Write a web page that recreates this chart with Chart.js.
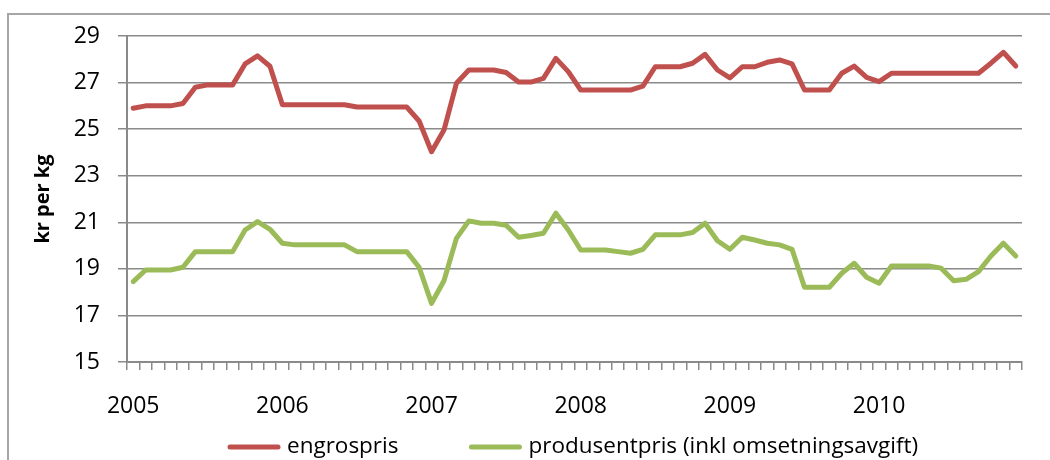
<!DOCTYPE html>
<html>
<head>
<meta charset="utf-8">
<script src="https://cdn.jsdelivr.net/npm/chart.js@4.4.0/dist/chart.umd.min.js"></script>
<style>
  html, body { margin: 0; padding: 0; background: #fff; overflow: hidden; }
  #frame { position: absolute; left: 7px; top: 13px; width: 1100px; height: 500px; border: 2px solid #a6a6a6; }
  #wrap { position: absolute; left: 0; top: 0; width: 1050px; height: 460px; }
</style>
</head>
<body>
<div id="frame"></div>
<div id="wrap"><canvas id="priceChart"></canvas></div>
<script>
// Monthly prices 2005-2010, kr per kg
const yearLabels = ["2005", "2006", "2007", "2008", "2009", "2010"];
const monthNames = ["01", "02", "03", "04", "05", "06", "07", "08", "09", "10", "11", "12"];

const engrospris = [
  25.9, 26.0, 26.0, 26.0, 26.1, 26.8, 26.9, 26.9, 26.9, 27.8, 28.15, 27.7,
  26.05, 26.05, 26.05, 26.05, 26.05, 26.05, 25.95, 25.95, 25.95, 25.95, 25.95, 25.35,
  24.03, 24.96, 26.97, 27.54, 27.54, 27.54, 27.43, 27.02, 27.02, 27.18, 28.04, 27.47,
  26.68, 26.68, 26.68, 26.68, 26.68, 26.85, 27.68, 27.68, 27.68, 27.83, 28.21, 27.54,
  27.2, 27.68, 27.68, 27.87, 27.97, 27.8, 26.68, 26.68, 26.68, 27.4, 27.71, 27.22,
  27.04, 27.4, 27.4, 27.4, 27.4, 27.4, 27.4, 27.4, 27.4, 27.83, 28.3, 27.71
];

const produsentpris = [
  18.45, 18.95, 18.95, 18.95, 19.07, 19.74, 19.74, 19.74, 19.74, 20.67, 21.03, 20.7,
  20.1, 20.03, 20.03, 20.03, 20.03, 20.03, 19.74, 19.74, 19.74, 19.74, 19.74, 19.07,
  17.52, 18.49, 20.31, 21.06, 20.96, 20.96, 20.87, 20.36, 20.43, 20.53, 21.39, 20.67,
  19.81, 19.81, 19.81, 19.74, 19.67, 19.84, 20.46, 20.46, 20.46, 20.56, 20.96, 20.21,
  19.84, 20.36, 20.24, 20.1, 20.03, 19.84, 18.21, 18.21, 18.21, 18.81, 19.24, 18.64,
  18.38, 19.12, 19.12, 19.12, 19.12, 19.03, 18.49, 18.55, 18.88, 19.55, 20.1, 19.55
];

const seriesNames = ["engrospris", "produsentpris (inkl omsetningsavgift)"];

const categories = [];
yearLabels.forEach(y => monthNames.forEach(m => categories.push(y + "-" + m)));

const RED = "#C0504D";
const GREEN = "#9BBB59";
const GRID = "#8a8a8a";
const FONT = "'Open Sans', sans-serif";

// legend drawn below the x axis, Excel style (line sample + text)
const bottomLegend = {
  id: "bottomLegend",
  afterDraw(chart) {
    const { ctx } = chart;
    const y = 447;
    let x = 228;
    ctx.save();
    ctx.font = "22.5px " + FONT;
    ctx.textBaseline = "middle";
    ctx.fillStyle = "#000";
    chart.data.datasets.forEach(ds => {
      ctx.strokeStyle = ds.borderColor;
      ctx.lineWidth = 5;
      ctx.lineCap = "round";
      ctx.beginPath();
      ctx.moveTo(x + 2, y);
      ctx.lineTo(x + 50, y);
      ctx.stroke();
      x += 59;
      ctx.fillText(ds.label, x, y);
      x += ctx.measureText(ds.label).width + 71;
    });
    ctx.restore();
  }
};

const lineStyle = {
  borderWidth: 5,
  pointRadius: 0,
  tension: 0,
  borderJoinStyle: "round",
  borderCapStyle: "round",
  fill: false
};

new Chart(document.getElementById("priceChart"), {
  type: "line",
  data: {
    labels: categories,
    datasets: [
      { label: seriesNames[0], data: engrospris, borderColor: RED, backgroundColor: RED, ...lineStyle },
      { label: seriesNames[1], data: produsentpris, borderColor: GREEN, backgroundColor: GREEN, ...lineStyle }
    ]
  },
  options: {
    responsive: true,
    maintainAspectRatio: false,
    animation: false,
    layout: { padding: { left: 0, top: 36, right: 28, bottom: 33 } },
    plugins: {
      legend: { display: false },
      tooltip: { enabled: false }
    },
    scales: {
      x: {
        type: "category",
        offset: true,
        grid: { offset: true, drawOnChartArea: false, drawTicks: true, tickLength: 8, color: GRID, lineWidth: 1.5 },
        border: { color: GRID, width: 2 },
        ticks: {
          autoSkip: false,
          maxRotation: 0,
          padding: 23,
          color: "#000",
          font: { family: FONT, size: 23 },
          callback: (v, i) => (i % 12 === 0 ? yearLabels[i / 12] : "")
        },
        afterFit: s => { s.height = 65; }
      },
      y: {
        min: 15,
        max: 29,
        ticks: { stepSize: 2, padding: 18, color: "#000", font: { family: FONT, size: 23 } },
        grid: { color: GRID, lineWidth: 1.5, tickLength: 9 },
        border: { color: GRID, width: 2 },
        title: {
          display: true,
          text: "kr per kg",
          color: "#000",
          padding: { top: 31, bottom: 0 },
          font: { family: FONT, size: 20, weight: "bold" }
        },
        afterFit: s => { s.width = 127; }
      }
    }
  },
  plugins: [bottomLegend]
});
</script>
</body>
</html>
